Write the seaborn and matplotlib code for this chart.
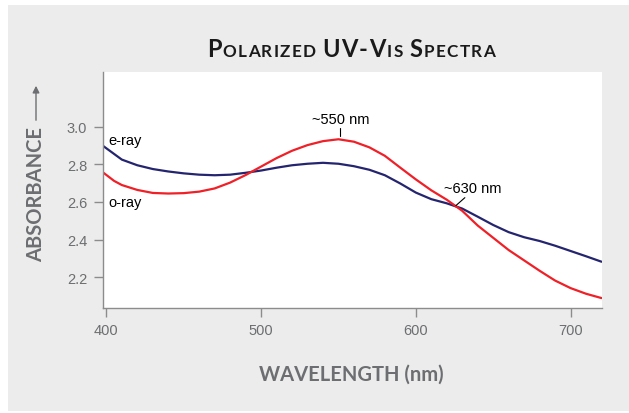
import matplotlib
matplotlib.use("Agg")
import matplotlib.pyplot as plt
import matplotlib.patches as mpatches
import numpy as np
import pandas as pd
import seaborn as sns

# ---- data ----
wavelength = [398, 405, 410, 420, 430, 440, 450, 460, 470, 480, 490, 500, 510, 520,
              530, 540, 550, 560, 570, 580, 590, 600, 610, 620, 630, 640, 650, 660,
              670, 680, 690, 700, 710, 720]
e_ray = [2.897, 2.855, 2.825, 2.795, 2.775, 2.762, 2.752, 2.745, 2.742, 2.745, 2.755,
         2.767, 2.782, 2.795, 2.803, 2.808, 2.803, 2.790, 2.771, 2.742, 2.698, 2.650,
         2.615, 2.593, 2.565, 2.522, 2.478, 2.440, 2.413, 2.393, 2.368, 2.340, 2.312, 2.283]
o_ray = [2.756, 2.712, 2.690, 2.664, 2.648, 2.645, 2.647, 2.655, 2.672, 2.703, 2.743,
         2.788, 2.833, 2.872, 2.902, 2.923, 2.933, 2.920, 2.890, 2.845, 2.782, 2.720,
         2.662, 2.612, 2.553, 2.475, 2.410, 2.345, 2.290, 2.235, 2.183, 2.143, 2.113, 2.090]
series_names = ["e-ray", "o-ray"]
x_ticks = [400, 500, 600, 700]
y_ticks = [2.2, 2.4, 2.6, 2.8, 3.0]
title_segments = [("P", "L"), ("OLARIZED ", "S"), ("UV-V", "L"), ("IS ", "S"),
                  ("S", "L"), ("PECTRA", "S")]

df = pd.DataFrame({
    "wavelength": wavelength * 2,
    "absorbance": e_ray + o_ray,
    "ray": [series_names[0]] * len(wavelength) + [series_names[1]] * len(wavelength),
})

sns.set_theme(style="white")
plt.rcParams["font.family"] = ["Liberation Sans", "DejaVu Sans"]

W, H = 629, 414
fig = plt.figure(figsize=(W / 100, H / 100), dpi=100, facecolor="white")
bg = mpatches.Rectangle((8 / W, 2 / H), 1 - 8 / W, (H - 8) / H, transform=fig.transFigure,
                        facecolor="#ebeceb", edgecolor="none", zorder=-10)
fig.patches.append(bg)

ax = fig.add_axes([102.5 / W, (H - 308.5) / H, (601.5 - 102.5) / W, (308.5 - 73) / H])
ax.set_facecolor("white")

sns.lineplot(data=df, x="wavelength", y="absorbance", hue="ray",
             palette={"e-ray": "#25256f", "o-ray": "#ef2027"},
             linewidth=1.6, legend=False, ax=ax)

ax.set_xlim(397.5, 720)
ax.set_ylim(2.04, 3.29)
ax.set_xticks(x_ticks)
ax.set_yticks(y_ticks)
ax.set_yticklabels([f"{v:.1f}" for v in y_ticks])
ax.set_xlabel("")
ax.set_ylabel("")

spine_col = "#8c8c8c"
for s in ["top", "right"]:
    ax.spines[s].set_visible(False)
for s in ["left", "bottom"]:
    ax.spines[s].set_color(spine_col)
    ax.spines[s].set_linewidth(1.0)
ax.tick_params(axis="both", which="major", direction="out", length=6.5, width=1.0,
               color=spine_col, labelcolor="#6d6e71", labelsize=10.5)
ax.tick_params(axis="y", pad=4.5)
ax.tick_params(axis="x", pad=5)
ax.tick_params(left=True, bottom=True)

# annotations
ax.text(401.3, 2.93, "e-ray", fontsize=10.5, color="black", ha="left", va="center")
ax.text(401.3, 2.598, "o-ray", fontsize=10.5, color="black", ha="left", va="center")
ax.text(551.5, 3.04, "~550 nm", fontsize=10.5, color="black", ha="center", va="center")
ax.plot([551, 551], [2.95, 2.993], color="black", linewidth=0.8)
ax.text(618, 2.672, "~630 nm", fontsize=10.5, color="black", ha="left", va="center")
ax.plot([625.9, 631.7], [2.581, 2.623], color="black", linewidth=0.8)

# axis labels
label_col = "#6d6e71"
head_font = ["Lato", "DejaVu Sans"]
fig.text(36 / W, (H - 194) / H, "ABSORBANCE", rotation=90, ha="center", va="center",
         fontsize=14.5, fontweight="bold", color=label_col, family=head_font)
fig.patches.append(mpatches.FancyArrowPatch((36 / W, (H - 124) / H), (36 / W, (H - 84) / H),
                                            transform=fig.transFigure, arrowstyle="-|>,head_length=4,head_width=2",
                                            color="#6d6e71", linewidth=1.0, mutation_scale=1))
fig.text(351 / W, (H - 375) / H, "WAVELENGTH (nm)", ha="center", va="center",
         fontsize=14.5, fontweight="bold", color=label_col, family=head_font)

# small-caps title with a little letter spacing
sizes = {"L": 17, "S": 12.3}
tracking = 1.3
renderer = fig.canvas.get_renderer()
chars = []
for seg, kind in title_segments:
    for ch in seg:
        t = fig.text(0, (H - 57) / H, ch, fontsize=sizes[kind], fontweight="bold",
                     color="#1a1a1a", va="baseline", ha="left", family=head_font)
        if ch == " ":
            w = sizes[kind] * 100 / 72 * 0.25
        else:
            w = t.get_window_extent(renderer).width
        chars.append((t, w))
total = sum(w for _, w in chars) + tracking * (len(chars) - 1)
x0 = 351 - total / 2
for t, w in chars:
    t.set_x(x0 / W)
    x0 += w + tracking

fig.savefig("out.png", dpi=100, facecolor=fig.get_facecolor())
